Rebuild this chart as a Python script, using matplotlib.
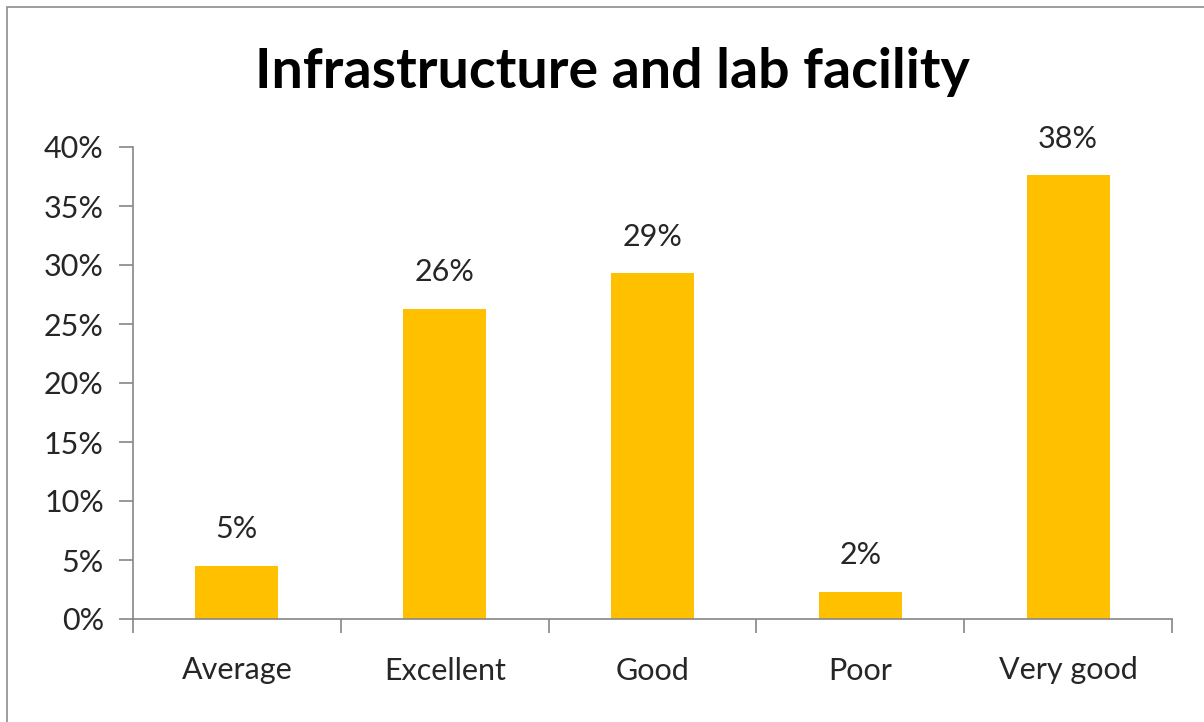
import matplotlib

matplotlib.use("Agg")
import matplotlib.pyplot as plt
from matplotlib.patches import Rectangle
from matplotlib.ticker import FuncFormatter

categories = ["Average", "Excellent", "Good", "Poor", "Very good"]
shares = [4.5, 26.3, 29.3, 2.3, 37.6]
share_labels = ["5%", "26%", "29%", "2%", "38%"]
y_ticks = [0, 5, 10, 15, 20, 25, 30, 35, 40]

plt.rcParams["font.family"] = ["Lato", "DejaVu Sans"]

fig = plt.figure(figsize=(12.04, 7.22), dpi=100)
fig.patches.append(
    Rectangle((7 / 1204, -0.1), 1.2, 1 - 7 / 722 + 0.1, transform=fig.transFigure,
              fill=False, edgecolor="#8c8c8c", linewidth=1.2)
)
ax = fig.add_axes([133 / 1204, 1 - 619 / 722, (1172 - 133) / 1204, (619 - 147) / 722])

x = list(range(len(categories)))
ax.bar(x, shares, width=0.4, color="#FFC000")
for xi, v, lab in zip(x, shares, share_labels):
    ax.text(xi, v + 1.9, lab, ha="center", va="bottom", fontsize=22, color="#262626")

ax.set_xlim(-0.5, len(categories) - 0.5)
ax.set_ylim(0, 40)
ax.set_yticks(y_ticks)
ax.yaxis.set_major_formatter(FuncFormatter(lambda v, _: f"{v:.0f}%"))
ax.set_xticks(x)
ax.set_xticklabels(categories)
ax.set_xticks([i - 0.5 for i in range(len(categories) + 1)], minor=True)
ax.tick_params(axis="x", which="major", length=0, pad=27, labelsize=22, labelcolor="#262626")
ax.tick_params(axis="x", which="minor", length=10, width=1.2, color="#868686")
ax.tick_params(axis="y", length=10, width=1.2, color="#868686", labelsize=22,
               labelcolor="#262626", pad=11)

for side in ("top", "right"):
    ax.spines[side].set_visible(False)
for side in ("left", "bottom"):
    ax.spines[side].set_color("#868686")
    ax.spines[side].set_linewidth(1.2)

fig.text(612 / 1204, 1 - 72 / 722, "Infrastructure and lab facility", ha="center",
         va="center", fontsize=40, fontweight="bold", color="black")

fig.savefig("out.png", dpi=100)
